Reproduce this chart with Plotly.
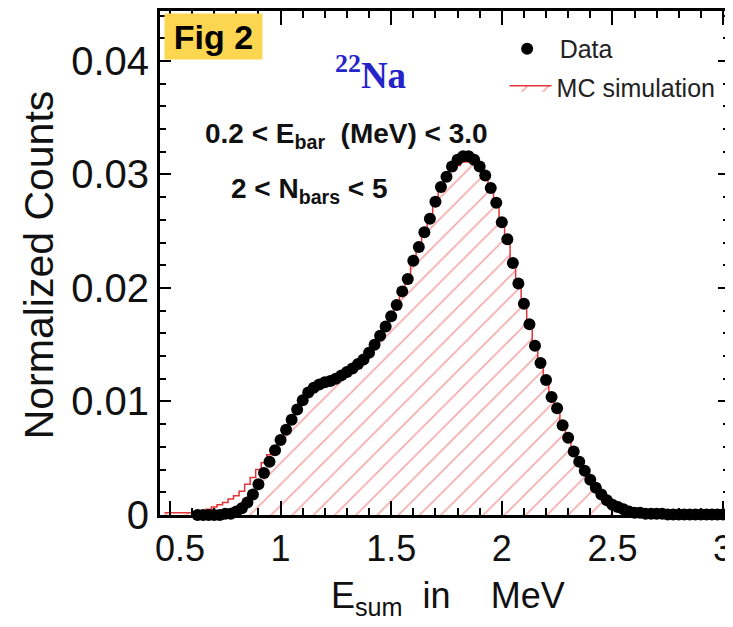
import plotly.graph_objects as go

# ---------------- data ----------------
data_energy = [0.625, 0.650, 0.675, 0.700, 0.725, 0.750, 0.775, 0.800, 0.825, 0.850,
               0.875, 0.900, 0.925, 0.950, 0.975, 1.000, 1.025, 1.050, 1.075, 1.100,
               1.125, 1.150, 1.175, 1.200, 1.225, 1.250, 1.275, 1.300, 1.325, 1.350,
               1.375, 1.400, 1.425, 1.450, 1.475, 1.500, 1.525, 1.550, 1.575, 1.600,
               1.625, 1.650, 1.675, 1.700, 1.725, 1.750, 1.775, 1.800, 1.825, 1.850,
               1.875, 1.900, 1.925, 1.950, 1.975, 2.000, 2.025, 2.050, 2.075, 2.100,
               2.125, 2.150, 2.175, 2.200, 2.225, 2.250, 2.275, 2.300, 2.325, 2.350,
               2.375, 2.400, 2.425, 2.450, 2.475, 2.500, 2.525, 2.550, 2.575, 2.600,
               2.625, 2.650, 2.675, 2.700, 2.725, 2.750, 2.775, 2.800, 2.825, 2.850,
               2.875, 2.900, 2.925, 2.950, 2.975, 3.000, 3.025]
data_counts = [0.0000, 0.0000, 0.0000, 0.0000, 0.0000, 0.0001, 0.0001, 0.0003, 0.0006, 0.0011,
               0.0018, 0.0027, 0.0037, 0.0047, 0.0057, 0.0066, 0.0075, 0.0084, 0.0093, 0.0101,
               0.0108, 0.0112, 0.0115, 0.0117, 0.0118, 0.0120, 0.0123, 0.0126, 0.0129, 0.0133,
               0.0137, 0.0143, 0.0150, 0.0158, 0.0166, 0.0175, 0.0185, 0.0197, 0.0208, 0.0224,
               0.0236, 0.0249, 0.0261, 0.0276, 0.0289, 0.0298, 0.0307, 0.0313, 0.0316, 0.0316,
               0.0313, 0.0307, 0.0299, 0.0288, 0.0275, 0.0258, 0.0243, 0.0222, 0.0204, 0.0186,
               0.0168, 0.0149, 0.0134, 0.0119, 0.0104, 0.0094, 0.0079, 0.0068, 0.0056, 0.0047,
               0.0039, 0.0031, 0.0024, 0.0018, 0.0013, 0.0009, 0.0007, 0.0005, 0.0003, 0.0002,
               0.0002, 0.0001, 0.0001, 0.0001, 0.0001, 0.00005, 0.00005, 0.00005, 0.00005, 0.00005,
               0.00005, 0.00005, 0.00005, 0.00005, 0.00005, 0.00005, 0.00005]

mc_energy = [0.475, 0.500, 0.525, 0.550, 0.575, 0.600, 0.625, 0.650, 0.675, 0.700,
             0.725, 0.750, 0.775, 0.800, 0.825, 0.850, 0.875, 0.900, 0.925, 0.950,
             0.975, 1.000, 1.025, 1.050, 1.075, 1.100, 1.125, 1.150, 1.175, 1.200,
             1.225, 1.250, 1.275, 1.300, 1.325, 1.350, 1.375, 1.400, 1.425, 1.450,
             1.475, 1.500, 1.525, 1.550, 1.575, 1.600, 1.625, 1.650, 1.675, 1.700,
             1.725, 1.750, 1.775, 1.800, 1.825, 1.850, 1.875, 1.900, 1.925, 1.950,
             1.975, 2.000, 2.025, 2.050, 2.075, 2.100, 2.125, 2.150, 2.175, 2.200,
             2.225, 2.250, 2.275, 2.300, 2.325, 2.350, 2.375, 2.400, 2.425, 2.450,
             2.475, 2.500, 2.525, 2.550, 2.575, 2.600, 2.625, 2.650, 2.675, 2.700,
             2.725, 2.750, 2.775, 2.800, 2.825, 2.850, 2.875, 2.900, 2.925, 2.950,
             2.975, 3.000, 3.025]
mc_counts = [0.0002, 0.0002, 0.0002, 0.0002, 0.0002, 0.0002, 0.0002, 0.0003, 0.0005, 0.0007,
             0.0009, 0.0011, 0.0014, 0.0017, 0.0021, 0.0027, 0.0033, 0.0040, 0.0046, 0.0053,
             0.0061, 0.0069, 0.0077, 0.0085, 0.0092, 0.0099, 0.0105, 0.0110, 0.0113, 0.0115,
             0.0117, 0.0119, 0.0121, 0.0124, 0.0127, 0.0131, 0.0135, 0.0141, 0.0148, 0.0156,
             0.0164, 0.0173, 0.0183, 0.0195, 0.0206, 0.0221, 0.0233, 0.0246, 0.0258, 0.0272,
             0.0285, 0.0294, 0.0303, 0.0308, 0.0311, 0.0311, 0.0309, 0.0304, 0.0297, 0.0287,
             0.0275, 0.0259, 0.0244, 0.0224, 0.0206, 0.0188, 0.0170, 0.0152, 0.0137, 0.0122,
             0.0107, 0.0095, 0.0081, 0.0069, 0.0057, 0.0047, 0.0038, 0.0030, 0.0023, 0.0017,
             0.0012, 0.0008, 0.0005, 0.0003, 0.0002, 0.0001, 0.0000, 0.0000, 0.0000, 0.0000,
             0.0000, 0.0000, 0.0000, 0.0000, 0.0000, 0.0000, 0.0000, 0.0000, 0.0000, 0.0000,
             0.0000, 0.0000, 0.0000]

x_tick_values = [0.5, 1.0, 1.5, 2.0, 2.5, 3.0]
x_tick_labels = ["\u00a0\u00a00.5", "1", "1.5", "2", "2.5", "3"]

x_range = [0.455, 3.027]
y_range = [0.0, 0.0444]

# ---------------- layout helpers ----------------
# the page body has an 8px default margin, so the figure is sized to fit the
# 733x627 window after that offset
OFF = 8
W, H = 733 - OFF, 627 - OFF
ML, MR, MT, MB = 152, 0, 2, 112
PW, PH = W - ML - MR, H - MT - MB


def xp(px):
    """page pixel x -> paper coordinate"""
    return (px - OFF - ML) / PW


def yp(py):
    """page pixel y -> paper coordinate"""
    return (H - MB - (py - OFF)) / PH


FONT = "Liberation Sans, Arial, Helvetica, sans-serif"
TXT = "#111111"

fig = go.Figure()

fig.add_trace(go.Scatter(
    x=mc_energy, y=mc_counts, mode="lines", name="MC simulation",
    line=dict(color="#E3343A", width=1.5, shape="hvh"),
    fill="tozeroy", fillcolor="rgba(255,255,255,0)",
    fillpattern=dict(shape="/", fgcolor="#EA5555", bgcolor="rgba(255,255,255,0)",
                     size=15, solidity=0.11),
    legend="legend2",
))

fig.add_trace(go.Scatter(
    x=data_energy, y=data_counts, mode="markers", name="Data",
    marker=dict(color="black", size=12, line=dict(width=0)),
    cliponaxis=False, legend="legend",
))

# invisible copy on the right-hand axis so that its frame ticks get drawn
fig.add_trace(go.Scatter(
    x=data_energy, y=data_counts, mode="markers", yaxis="y2",
    marker=dict(color="rgba(0,0,0,0)", size=1), showlegend=False, hoverinfo="skip",
))

axis_common = dict(
    showline=True, linewidth=3, linecolor="black",
    ticks="inside", tickwidth=2, tickcolor="black",
    showgrid=False, zeroline=False,
)

fig.update_xaxes(
    range=x_range, tickmode="array", tickvals=x_tick_values, ticktext=x_tick_labels,
    ticklen=14, mirror="ticks", ticklabeloverflow="allow",
    tickfont=dict(family=FONT, size=36, color=TXT),
    minor=dict(ticks="inside", dtick=0.1, tick0=0.5, ticklen=7, tickwidth=2,
               tickcolor="black", showgrid=False),
    **axis_common,
)
fig.update_layout(yaxis=dict(
    range=y_range, dtick=0.01, tick0=0, ticklen=11,
    tickfont=dict(family=FONT, size=40, color=TXT),
    minor=dict(ticks="inside", dtick=0.002, tick0=0, ticklen=6, tickwidth=2,
               tickcolor="black", showgrid=False),
    **axis_common,
))

annotations = [
    # axis titles
    dict(text="Normalized Counts", x=xp(39), y=yp(264), xref="paper", yref="paper",
         textangle=-90, showarrow=False, xanchor="center", yanchor="middle",
         font=dict(family=FONT, size=41, color=TXT)),
    dict(text="E<sub>sum</sub>\u00a0\u00a0in\u00a0\u00a0\u00a0\u00a0MeV", x=xp(450), y=yp(598),
         xref="paper", yref="paper", showarrow=False, xanchor="center", yanchor="middle",
         font=dict(family=FONT, size=36, color=TXT)),
    # figure tag
    dict(text="<b>Fig 2</b>", x=xp(214), y=yp(36), xref="paper", yref="paper",
         showarrow=False, xanchor="center", yanchor="middle", width=95, height=43,
         bgcolor="#FDD651", font=dict(family=FONT, size=34, color="black")),
    # isotope label
    dict(text="<sup>22</sup>Na", x=xp(372), y=yp(72), xref="paper", yref="paper",
         showarrow=False, xanchor="center", yanchor="middle",
         font=dict(family="Liberation Serif, Times New Roman, serif", size=37,
                   color="#2424C8", weight="bold")),
    # cuts
    dict(text="<b>0.2 < E<sub>bar</sub>\u00a0\u00a0(MeV) < 3.0</b>", x=xp(348), y=yp(135),
         xref="paper", yref="paper", showarrow=False, xanchor="center", yanchor="middle",
         font=dict(family=FONT, size=28, color=TXT)),
    dict(text="<b>2 < N<sub>bars</sub> < 5</b>", x=xp(311), y=yp(190),
         xref="paper", yref="paper", showarrow=False, xanchor="center", yanchor="middle",
         font=dict(family=FONT, size=28, color=TXT)),
]

fig.update_layout(
    width=W, height=H,
    margin=dict(l=ML, r=MR, t=MT, b=MB, pad=0),
    paper_bgcolor="white", plot_bgcolor="white",
    font=dict(family=FONT, color=TXT),
    showlegend=True,
    # right-hand frame ticks (the frame line itself lies just past the picture edge)
    yaxis2=dict(overlaying="y", side="right", range=y_range,
                dtick=0.01, tick0=0, ticks="inside", ticklen=11, tickwidth=2,
                tickcolor="black", showticklabels=False, showline=False,
                showgrid=False, zeroline=False,
                minor=dict(ticks="inside", dtick=0.002, tick0=0, ticklen=6,
                           tickwidth=2, tickcolor="black", showgrid=False)),
    legend=dict(x=xp(497), y=yp(25), xanchor="left", yanchor="top", itemwidth=55,
                bgcolor="rgba(0,0,0,0)", font=dict(family=FONT, size=25, color="#222222"),
                tracegroupgap=0),
    legend2=dict(x=xp(507), y=yp(64), xanchor="left", yanchor="top", itemwidth=42,
                 bgcolor="rgba(0,0,0,0)", font=dict(family=FONT, size=25, color="#222222"),
                 tracegroupgap=0),
    annotations=annotations,
)

fig.write_html("out.html")
